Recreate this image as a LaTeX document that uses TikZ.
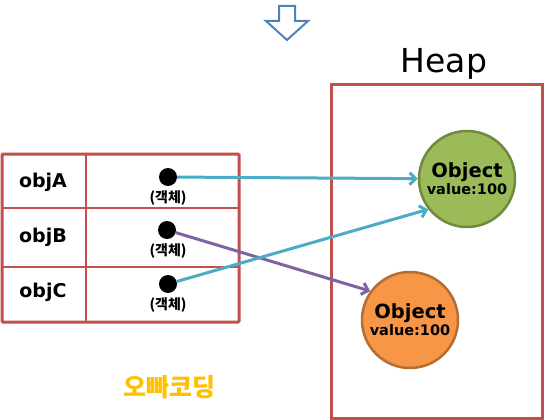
\documentclass[tikz,border=0pt]{standalone}
\usepackage{fontspec}
\setmainfont{DejaVu Sans}
\newfontfamily\korfont{Noto Sans CJK KR}
\usepackage{tikz}
\usetikzlibrary{arrows.meta,positioning}

\definecolor{boxred}{HTML}{C0504D}
\definecolor{refcyan}{HTML}{4BACC6}
\definecolor{refpurple}{HTML}{8064A2}
\definecolor{objgreen}{HTML}{9BBB59}
\definecolor{objgreendk}{HTML}{71893F}
\definecolor{objorange}{HTML}{F79646}
\definecolor{objorangedk}{HTML}{B66D31}
\definecolor{downblue}{HTML}{4F81BD}
\definecolor{logoyellow}{HTML}{FFC000}

\begin{document}
\begin{tikzpicture}[
  x=1pt, y=-1pt,
  font=\bfseries,
  >=Latex,
  varname/.style={font=\fontsize{19}{20}\selectfont\bfseries},
  refdot/.style={circle, fill=black, inner sep=0pt, minimum size=18pt},
  reftag/.style={font=\korfont\fontsize{14}{15}\selectfont\bfseries},
  heapobj/.style={circle, line width=2.5pt, minimum size=96pt, inner sep=0pt, align=center},
  arr/.style={-{Straight Barb[length=6pt,width=12pt]}, line width=3pt}
]
\useasboundingbox (0,0) rectangle (546,420);

% down arrow
\draw[downblue, fill=white, line width=2pt, line join=miter]
  (279,6) -- (295,6) -- (295,21) -- (308,21) -- (287,40) -- (266,21) -- (279,21) -- cycle;

% stack table
\draw[boxred, line width=2pt] (86,154) -- (86,322);
\draw[boxred, line width=2pt] (2,208) -- (239,208);
\draw[boxred, line width=2pt] (2,267) -- (239,267);
\draw[boxred, line width=3pt, rounded corners=1pt] (2,154) rectangle (239,322);

\node[varname] (nA) at (43,182) {objA};
\node[varname] (nB) at (43,237) {objB};
\node[varname] (nC) at (43,292) {objC};

\node[refdot] (dA) at (168,177) {};
\node[refdot] (dB) at (167,230) {};
\node[refdot] (dC) at (168,284) {};
\node[reftag] (tA) at (168,198) {(객체)};
\node[reftag] (tB) at (168,251) {(객체)};
\node[reftag] (tC) at (168,305) {(객체)};

% heap
\draw[boxred, line width=3pt] (331,84) rectangle (542,418);
\node[font=\fontsize{33}{36}\selectfont\mdseries] (heap) at (444,64) {Heap};

\node[heapobj, draw=objgreendk, fill=objgreen] (objG) at (467,179)
  {\fontsize{19.5}{20}\selectfont Object\\[1pt]\fontsize{14.5}{15}\selectfont value:100};
\node[heapobj, draw=objorangedk, fill=objorange] (objO) at (410,320)
  {\fontsize{19.5}{20}\selectfont Object\\[1pt]\fontsize{14.5}{15}\selectfont value:100};

\draw[arr, refcyan] (dA) -- (objG);
\draw[arr, refpurple] (dB) -- (objO.144);
\draw[arr, refcyan] (dC) -- (objG.218);

\node[font=\korfont\fontsize{25}{26}\selectfont\bfseries, text=logoyellow] (logo) at (169,387) {오빠코딩};
\end{tikzpicture}
\end{document}
